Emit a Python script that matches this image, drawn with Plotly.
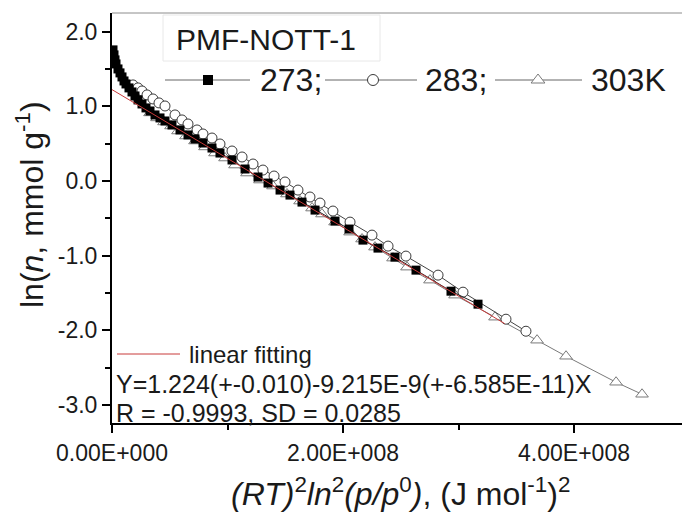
import plotly.graph_objects as go

# ---------------- data ----------------
x273 = [0.0087, 0.0173, 0.026, 0.0346, 0.0519, 0.0693, 0.0866, 0.1039, 0.1212, 0.1472,
        0.1732, 0.1991, 0.2251, 0.2597, 0.2944, 0.329, 0.3723, 0.4156, 0.4589, 0.5195,
        0.5887, 0.658, 0.7186, 0.7879, 0.8658, 0.935, 1.039, 1.152, 1.264, 1.351,
        1.455, 1.541, 1.645, 1.758, 1.931, 2.052, 2.173, 2.303, 2.45, 2.632, 2.935, 3.169]
y273 = [1.756, 1.689, 1.622, 1.568, 1.501, 1.448, 1.394, 1.340, 1.300, 1.247,
        1.193, 1.139, 1.086, 1.032, 0.979, 0.938, 0.885, 0.845, 0.804, 0.751,
        0.684, 0.617, 0.563, 0.509, 0.442, 0.375, 0.282, 0.161, 0.054, -0.027,
        -0.121, -0.188, -0.282, -0.389, -0.536, -0.643, -0.791, -0.898, -1.019, -1.193, -1.475, -1.649]

x283 = [0.1818, 0.2251, 0.2597, 0.303, 0.355, 0.4069, 0.4589, 0.5455, 0.6061, 0.658,
        0.7359, 0.7879, 0.8658, 0.935, 1.039, 1.126, 1.221, 1.307, 1.403, 1.498,
        1.61, 1.714, 1.801, 1.913, 2.061, 2.251, 2.39, 2.545, 2.823, 3.039, 3.411, 3.584]
y283 = [1.287, 1.247, 1.206, 1.153, 1.099, 1.046, 1.005, 0.885, 0.818, 0.764,
        0.684, 0.630, 0.576, 0.496, 0.402, 0.322, 0.228, 0.147, 0.067, -0.013,
        -0.121, -0.214, -0.295, -0.402, -0.550, -0.724, -0.871, -1.005, -1.260, -1.488, -1.850, -2.011]

x303 = [0.329, 0.3896, 0.4502, 0.5108, 0.5714, 0.6407, 0.7186, 0.8052, 0.8918, 0.9784,
        1.065, 1.169, 1.281, 1.394, 1.515, 1.628, 1.732, 1.818, 1.931, 2.061,
        2.165, 2.277, 2.433, 2.554, 2.753, 2.970, 3.316, 3.680, 3.931, 4.364, 4.589]
y303 = [0.912, 0.845, 0.791, 0.737, 0.670, 0.603, 0.536, 0.456, 0.375, 0.308,
        0.214, 0.107, 0.013, -0.067, -0.174, -0.268, -0.362, -0.442, -0.550, -0.684,
        -0.777, -0.885, -1.032, -1.153, -1.327, -1.528, -1.823, -2.131, -2.346, -2.694, -2.855]

X_SCALE = 1e8
fit_intercept = 1.224
fit_slope = -9.215e-9
fit_x = [0.0, 3.40e8]

x_tickvals = [0, 2e8, 4e8]
x_ticktext = ["0.00E+000", "2.00E+008", "4.00E+008"]
x_minor = [1e8, 3e8]
y_tickvals = [-3, -2, -1, 0, 1, 2]
y_ticktext = ["-3.0", "-2.0", "-1.0", "0.0", "1.0", "2.0"]

series_names = ["273;", "283;", "303K"]
legend_title = "PMF-NOTT-1"
fit_label = "linear fitting"
eq_text = "Y=1.224(+-0.010)-9.215E-9(+-6.585E-11)X"
r_text = "R = -0.9993, SD = 0.0285"

# ---------------- figure ----------------
FONT = "Liberation Sans, Arial, sans-serif"
TXT = "#1a1a1a"
W, H = 682, 513
L, R, T, B = 112, 0, 13, 90

s273 = dict(symbol="square", size=9, color="#000000", line=dict(width=0))
s283 = dict(symbol="circle", size=10, color="white", line=dict(color="#3a3a3a", width=1))
s303 = dict(symbol="triangle-up", size=11, color="white", line=dict(color="#7a7a7a", width=1))
l273 = dict(color="#222222", width=1)
l283 = dict(color="#444444", width=1)
l303 = dict(color="#7a7a7a", width=1)
leg_line = dict(color="#666666", width=1)
fitcol = "#c83a3a"

fig = go.Figure()
fig.add_trace(go.Scatter(x=[v * X_SCALE for v in x303], y=y303, mode="lines+markers",
                         marker=s303, line=l303, name=series_names[2]))
fig.add_trace(go.Scatter(x=[v * X_SCALE for v in x283], y=y283, mode="lines+markers",
                         marker=s283, line=l283, name=series_names[1]))
fig.add_trace(go.Scatter(x=[v * X_SCALE for v in x273], y=y273, mode="lines+markers",
                         marker=s273, line=l273, name=series_names[0]))
fig.add_trace(go.Scatter(x=fit_x, y=[fit_intercept + fit_slope * v for v in fit_x],
                         mode="lines", line=dict(color=fitcol, width=1), name=fit_label))

# legend glyphs on an overlay axis measured in window pixels
leg_y = 80
leg_items = [(165, 250, 208, s273), (325, 417, 373, s283), (495, 582, 538, s303)]
leg_text_x = [258, 423, 589]
for (x0, x1, xm, sm), tx, nm in zip(leg_items, leg_text_x, series_names):
    fig.add_trace(go.Scatter(x=[x0, xm, x1], y=[leg_y] * 3, mode="lines", line=leg_line,
                             xaxis="x2", yaxis="y2", hoverinfo="skip"))
    fig.add_trace(go.Scatter(x=[xm], y=[leg_y], mode="markers", marker=dict(sm, size=sm["size"] + 1),
                             xaxis="x2", yaxis="y2", hoverinfo="skip"))
    fig.add_annotation(x=tx, y=leg_y, xref="x2", yref="y2", text=nm, showarrow=False,
                       xanchor="left", yanchor="middle", font=dict(family=FONT, size=32, color=TXT))
fig.add_trace(go.Scatter(x=[117, 180], y=[354, 354], mode="lines", line=dict(color=fitcol, width=1),
                         xaxis="x2", yaxis="y2", hoverinfo="skip"))

fig.add_annotation(x=174, y=39, xref="x2", yref="y2", text=legend_title, showarrow=False,
                   xanchor="left", yanchor="middle", font=dict(family=FONT, size=30, color=TXT))
fig.add_shape(type="rect", x0=163, x1=380, y0=15, y1=61, xref="x2", yref="y2",
              line=dict(color="#e8e8e8", width=1))
fig.add_annotation(x=187, y=354, xref="x2", yref="y2", text=fit_label, showarrow=False,
                   xanchor="left", yanchor="middle", font=dict(family=FONT, size=24, color=TXT))
fig.add_annotation(x=114, y=384, xref="x2", yref="y2", text=eq_text, showarrow=False,
                   xanchor="left", yanchor="middle", font=dict(family=FONT, size=25, color=TXT))
fig.add_annotation(x=114, y=413, xref="x2", yref="y2", text=r_text, showarrow=False,
                   xanchor="left", yanchor="middle", font=dict(family=FONT, size=25, color=TXT))

# top frame line
fig.add_shape(type="line", x0=0, x1=1, y0=1, y1=1, xref="paper", yref="paper",
              line=dict(color="#8c8c8c", width=1))

# axis titles
pw, ph = W - L - R, H - T - B
fig.add_annotation(x=(30 - L) / pw, y=(H - B - 205) / ph, xref="paper", yref="paper",
                   xanchor="center", yanchor="middle",
                   text="ln(<i>n</i>, mmol g<sup>-1</sup>)", textangle=-90, showarrow=False,
                   font=dict(family=FONT, size=32, color=TXT))
fig.add_annotation(x=(400 - L) / pw, y=(H - B - 492) / ph, xref="paper", yref="paper",
                   xanchor="center", yanchor="middle",
                   text="<i>(RT)</i><sup>2</sup><i>ln</i><sup>2</sup><i>(p/p</i><sup>0</sup><i>)</i>, (J mol<sup>-1</sup>)<sup>2</sup>",
                   showarrow=False, font=dict(family=FONT, size=32, color=TXT))

fig.update_layout(
    width=W, height=H, margin=dict(l=L, r=R, t=T, b=B),
    paper_bgcolor="white", plot_bgcolor="white", showlegend=False,
    xaxis=dict(range=[0, 4.935e8], showgrid=False, zeroline=False, showline=True,
               linecolor="#000", linewidth=2, ticks="outside", ticklen=8, tickwidth=2,
               tickcolor="#000", tickvals=x_tickvals, ticktext=x_ticktext,
               minor=dict(tickvals=x_minor, ticklen=5, tickwidth=2, tickcolor="#000", ticks="outside"),
               tickfont=dict(family=FONT, size=23, color=TXT)),
    yaxis=dict(range=[-3.24, 2.25], showgrid=False, zeroline=False, showline=True,
               linecolor="#000", linewidth=2, ticks="outside", ticklen=8, tickwidth=2,
               tickcolor="#000", tickvals=y_tickvals, ticktext=y_ticktext,
               minor=dict(dtick=0.5, tick0=0, ticklen=5, tickwidth=2, tickcolor="#000", ticks="outside"),
               tickfont=dict(family=FONT, size=23, color=TXT)),
    xaxis2=dict(range=[L, W], overlaying="x", anchor="y2", visible=False),
    yaxis2=dict(range=[H - B, T], overlaying="y", anchor="x2", visible=False),
)

fig.write_html("out.html")
